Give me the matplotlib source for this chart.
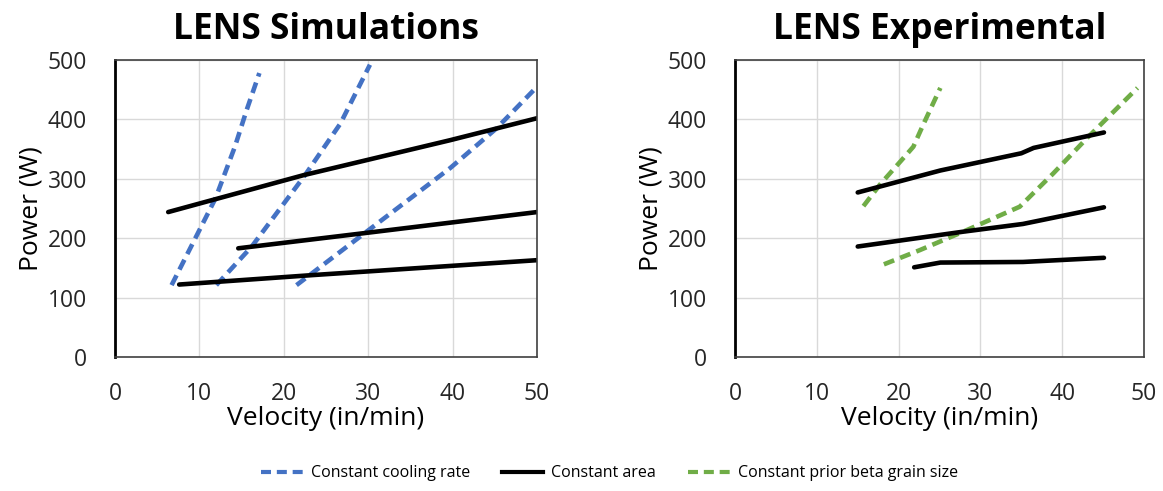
import matplotlib.pyplot as plt
from matplotlib.lines import Line2D

plt.rcParams['font.family'] = ['Open Sans', 'DejaVu Sans']

BLUE = '#4472C4'
GREEN = '#70AD47'

# LENS simulations: constant cooling rate (dashed blue)
sim_cool = [
    ([6.7, 9.3, 11.9, 14.2, 15.6, 17.1], [121, 194, 267, 354, 416, 478]),
    ([12.0, 16.2, 22.5, 26.7, 30.2], [121, 186, 306, 393, 492]),
    ([21.5, 29.8, 39.7, 45.2, 50.0], [121, 211, 318, 385, 455]),
]
# LENS simulations: constant area (black)
sim_area = [
    ([6.3, 22.3, 39.7, 50.0], [244, 306, 365, 402]),
    ([14.6, 29.8, 50.0], [183, 209, 244]),
    ([7.6, 23.5, 50.0], [122, 138, 163]),
]

# LENS experimental: constant prior beta grain size (dashed green)
exp_grain = [
    ([15.7, 17.7, 20.4, 21.8, 23.0, 25.1], [254, 290, 332, 354, 391, 453]),
    ([18.2, 22.6, 27.9, 34.8, 38.9, 43.0, 49.2], [156, 180, 211, 253, 309, 368, 453]),
]
# LENS experimental: constant area (black)
exp_area = [
    ([15.0, 25.1, 35.0, 36.5, 45.1], [277, 314, 343, 352, 378]),
    ([15.0, 27.9, 35.2, 45.1], [186, 211, 224, 252]),
    ([21.9, 25.1, 35.2, 45.1], [151, 159, 160, 167]),
]

x_ticks = [0, 10, 20, 30, 40, 50]
y_ticks = [0, 100, 200, 300, 400, 500]

fig = plt.figure(figsize=(11.63, 4.91), dpi=100)
ax1 = fig.add_axes([0.0989, 0.2729, 0.3629, 0.6049])
ax2 = fig.add_axes([0.632, 0.2729, 0.3517, 0.6049])

dash_kw = dict(lw=3.3, linestyle=(0, (2.4, 1.4)), dash_capstyle='butt')
solid_kw = dict(lw=3.3, color='black', solid_capstyle='round')


def style_axes(ax, title):
    ax.set_xlim(0, 50)
    ax.set_ylim(0, 500)
    ax.set_xticks(x_ticks)
    ax.set_yticks(y_ticks)
    ax.grid(True, color='#d9d9d9', lw=1)
    ax.set_axisbelow(True)
    ax.tick_params(axis='x', length=0, labelsize=16.5, pad=18, colors='#262626')
    ax.tick_params(axis='y', length=0, labelsize=16.5, pad=20, colors='#262626')
    for side in ['top', 'right', 'bottom']:
        ax.spines[side].set_color('#404040')
        ax.spines[side].set_linewidth(1.2)
    ax.spines['left'].set_color('black')
    ax.spines['left'].set_linewidth(2)
    ax.set_xlabel('Velocity (in/min)', fontsize=19, labelpad=0)
    ax.set_ylabel('Power (W)', fontsize=19, labelpad=3)
    ax.set_title(title, fontsize=25.5, fontweight='bold', pad=15)


for xs, ys in sim_cool:
    ax1.plot(xs, ys, color=BLUE, **dash_kw)
for xs, ys in sim_area:
    ax1.plot(xs, ys, **solid_kw)
style_axes(ax1, 'LENS Simulations')

for xs, ys in exp_grain:
    ax2.plot(xs, ys, color=GREEN, **dash_kw)
for xs, ys in exp_area:
    ax2.plot(xs, ys, **solid_kw)
style_axes(ax2, 'LENS Experimental')

handles = [
    Line2D([], [], color=BLUE, lw=3, linestyle=(0, (2.4, 1.4))),
    Line2D([], [], color='black', lw=3),
    Line2D([], [], color=GREEN, lw=3, linestyle=(0, (2.4, 1.4))),
]
labels = ['Constant cooling rate', 'Constant area', 'Constant prior beta grain size']
fig.legend(handles, labels, loc='center', bbox_to_anchor=(0.524, 0.036), ncol=3,
           frameon=False, fontsize=11.5, handlelength=2.6, columnspacing=2.0,
           handletextpad=0.5)

fig.savefig('out.png', dpi=100)
